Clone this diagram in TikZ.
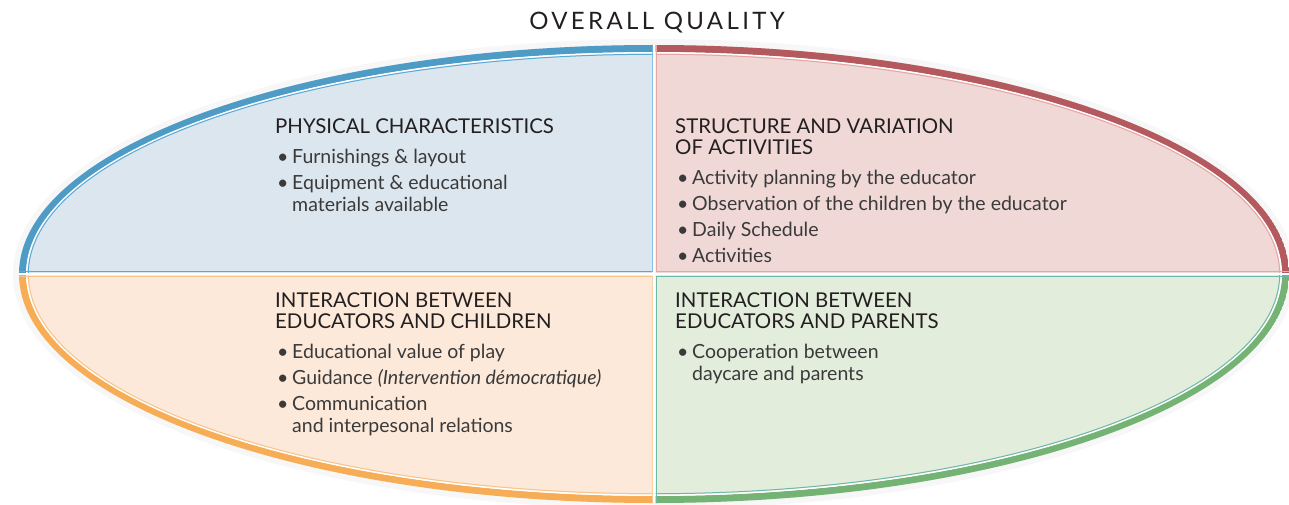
\documentclass[tikz,border=0pt]{standalone}
\usepackage{fontspec}
\setmainfont{Lato}
\newfontfamily\titlefont[LetterSpace=14]{Lato}
\usetikzlibrary{positioning}

\definecolor{bluefill}{HTML}{DCE6EF}
\definecolor{blueband}{HTML}{4E9BC6}
\definecolor{bluethin}{HTML}{5AAAD6}
\definecolor{redfill}{HTML}{EFD8D6}
\definecolor{redband}{HTML}{B45A5E}
\definecolor{redthin}{HTML}{E6A6A3}
\definecolor{orangefill}{HTML}{FDE9D9}
\definecolor{orangeband}{HTML}{F6AD55}
\definecolor{orangethin}{HTML}{F8C48A}
\definecolor{greenfill}{HTML}{E3EDDC}
\definecolor{greenband}{HTML}{74B374}
\definecolor{greenthin}{HTML}{6DB8A8}
\definecolor{headtext}{HTML}{231F20}
\definecolor{bodytext}{HTML}{3A3A3A}

\newcommand{\itembul}{\fontsize{19.5}{22}\selectfont\color{bodytext}\makebox[17pt][l]{\hspace{2pt}•}}
\newcommand{\itemind}{\fontsize{19.5}{22}\selectfont\color{bodytext}\hspace*{17pt}}

\begin{document}
\begin{tikzpicture}[x=1pt,y=1pt,
  block/.style={anchor=north west,inner sep=0pt,align=left,
    font=\fontsize{20.4}{22}\selectfont,text=headtext},
  band/.style={line width=7pt},
  thin/.style={line width=1pt}]
\useasboundingbox (0,0) rectangle (1289,504);
\coordinate (C) at (654,230);
\coordinate (T) at (657,474);
\coordinate (A1) at (275,385);
\coordinate (A2) at (675,385);
\coordinate (A3) at (275,211);
\coordinate (A4) at (675,211);

% soft shadow round the oval
\draw[black!3,line width=6pt] (C) ellipse [x radius=638, y radius=232];

% upper left
\begin{scope}
\clip (0,231.5) rectangle (652.5,504);
\clip (C) ellipse [x radius=635, y radius=229];
\fill[bluefill] (0,0) rectangle (1289,504);
\draw[blueband,band] (C) ellipse [x radius=631.5, y radius=225.5];
\draw[white,line width=1.5pt] (C) ellipse [x radius=627.2, y radius=221.2];
\draw[bluethin,thin] (C) ellipse [x radius=625.7, y radius=219.7];
\draw[bluethin,thin] (0,232.2) -- (652,232.2) -- (652,504);
\end{scope}

% upper right
\begin{scope}
\clip (655.5,231.5) rectangle (1289,504);
\clip (C) ellipse [x radius=635, y radius=229];
\fill[redfill] (0,0) rectangle (1289,504);
\draw[redband,band] (C) ellipse [x radius=631.5, y radius=225.5];
\draw[white,line width=1.5pt] (C) ellipse [x radius=627.2, y radius=221.2];
\draw[redthin,thin] (C) ellipse [x radius=625.7, y radius=219.7];
\draw[redthin,thin] (1289,232.2) -- (656,232.2) -- (656,504);
\end{scope}

% lower left
\begin{scope}
\clip (0,0) rectangle (652.5,228.5);
\clip (C) ellipse [x radius=635, y radius=229];
\fill[orangefill] (0,0) rectangle (1289,504);
\draw[orangeband,band] (C) ellipse [x radius=631.5, y radius=225.5];
\draw[white,line width=1.5pt] (C) ellipse [x radius=627.2, y radius=221.2];
\draw[orangethin,thin] (C) ellipse [x radius=625.7, y radius=219.7];
\draw[orangethin,thin] (0,227.8) -- (652,227.8) -- (652,0);
\end{scope}

% lower right
\begin{scope}
\clip (655.5,0) rectangle (1289,228.5);
\clip (C) ellipse [x radius=635, y radius=229];
\fill[greenfill] (0,0) rectangle (1289,504);
\draw[greenband,band] (C) ellipse [x radius=631.5, y radius=225.5];
\draw[white,line width=1.5pt] (C) ellipse [x radius=627.2, y radius=221.2];
\draw[greenthin,thin] (C) ellipse [x radius=625.7, y radius=219.7];
\draw[greenthin,thin] (1289,227.8) -- (656,227.8) -- (656,0);
\end{scope}

\node[anchor=base,inner sep=0pt,text=headtext,font=\titlefont\fontsize{24}{28}\selectfont]
  (title) at (T) {OVERALL QUALITY};

\node[block] (physical) at (A1) {PHYSICAL CHARACTERISTICS\\[8pt]
  \itembul Furnishings \& layout\\[4pt]
  \itembul Equipment \& educational\\
  \itemind materials available};

\node[block] (structure) at (A2) {STRUCTURE AND VARIATION\\[-1pt]
  OF ACTIVITIES\\[8pt]
  \itembul Activity planning by the educator\\[4pt]
  \itembul Observation of the children by the educator\\[4pt]
  \itembul Daily Schedule\\[4pt]
  \itembul Activities};

\node[block] (children) at (A3) {INTERACTION BETWEEN\\[-1pt]
  EDUCATORS AND CHILDREN\\[8pt]
  \itembul Educational value of play\\[4pt]
  \itembul Guidance \textit{(Intervention démocratique)}\\[4pt]
  \itembul Communication\\
  \itemind and interpesonal relations};

\node[block] (parents) at (A4) {INTERACTION BETWEEN\\[-1pt]
  EDUCATORS AND PARENTS\\[8pt]
  \itembul Cooperation between\\
  \itemind daycare and parents};
\end{tikzpicture}
\end{document}
